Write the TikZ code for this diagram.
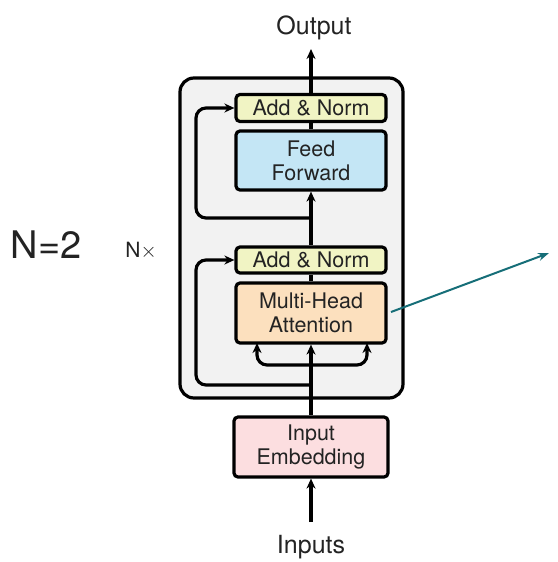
\documentclass[tikz,border=0pt]{standalone}
\usepackage{fontspec}
\setmainfont{TeX Gyre Heros}
\usetikzlibrary{arrows.meta}
\definecolor{anfill}{RGB}{241,244,196}
\definecolor{fffill}{RGB}{196,230,245}
\definecolor{mhafill}{RGB}{252,224,190}
\definecolor{embfill}{RGB}{252,222,224}
\definecolor{outerfill}{RGB}{242,242,242}
\definecolor{teal2}{RGB}{22,110,120}
\definecolor{txt}{RGB}{35,35,35}
\begin{document}
\begin{tikzpicture}[x=1pt,y=-1pt,
  blk/.style={draw=black, line width=3.2pt, rounded corners=4pt, minimum width=150pt, align=center, font=\fontsize{21.5}{24}\selectfont, text=txt, inner sep=0pt},
  conn/.style={line width=3.2pt, draw=black},
  arr/.style={conn, -{Stealth[length=10pt,width=9pt]}},
  lbl/.style={font=\fontsize{25}{27}\selectfont, text=txt, inner sep=0pt}
]
\useasboundingbox (0,0) rectangle (557,562);
\node[draw=black, line width=3.2pt, rounded corners=14pt, fill=outerfill, minimum width=223pt, minimum height=320pt] (outer) at (291.5,238) {};
\node[blk, fill=anfill, minimum height=27pt] (an2) at (311,108) {Add \& Norm};
\node[blk, fill=fffill, minimum height=59pt] (ff) at (311,160.5) {Feed\\Forward};
\node[blk, fill=anfill, minimum height=26pt] (an1) at (311,260) {Add \& Norm};
\node[blk, fill=mhafill, minimum height=60pt] (mha) at (311,313) {Multi-Head\\Attention};
\node[blk, fill=embfill, minimum height=60pt, minimum width=154pt] (emb) at (311,447) {Input\\Embedding};
\node[lbl] (output) at (314,28) {Output};
\node[lbl] (inputs) at (311,547) {Inputs};
\node[font=\fontsize{38}{40}\selectfont, text=txt, inner sep=0pt] (n2) at (46,245) {N=2};
\node[font=\fontsize{21}{23}\selectfont, text=txt, inner sep=0pt] (nx) at (141,251) {N$\times$};
\coordinate (outtip) at (311,49);
\coordinate (intail) at (311,522);
\coordinate (r1) at (311,385);
\coordinate (l1) at (196,385);
\coordinate (s) at (311,365);
\coordinate (ka) at (257,343);
\coordinate (va) at (367,343);
\coordinate (r2) at (311,218);
\coordinate (l2) at (196,218);
\coordinate (tealstart) at (391,312);
\coordinate (tealend) at (549,253);
% main path
\draw[arr] (intail) -- (emb.south);
\draw[arr] (emb.north) -- (mha.south);
\draw[arr, rounded corners=10pt] (r1) -- (l1) |- (an1.west);
\draw[arr, rounded corners=10pt] (s) -| (ka);
\draw[arr, rounded corners=10pt] (s) -| (va);
\draw[conn] (mha.north) -- (an1.south);
\draw[arr] (an1.north) -- (ff.south);
\draw[arr, rounded corners=10pt] (r2) -- (l2) |- (an2.west);
\draw[conn] (ff.north) -- (an2.south);
\draw[arr] (an2.north) -- (outtip);
\draw[teal2, line width=2pt, -{Stealth[length=11pt,width=8pt]}] (tealstart) -- (tealend);
\end{tikzpicture}
\end{document}
